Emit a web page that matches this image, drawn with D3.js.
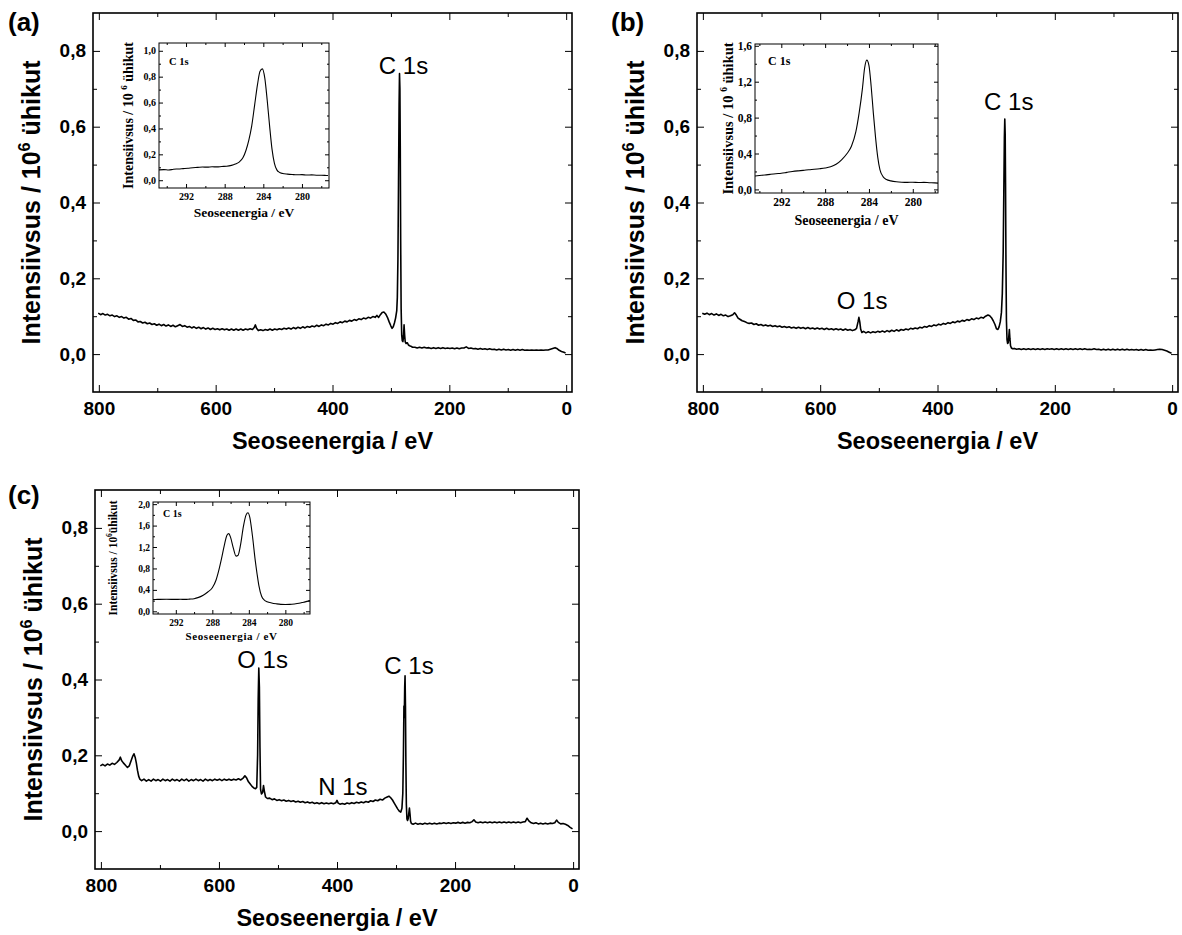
<!DOCTYPE html>
<html><head><meta charset="utf-8">
<script src="https://cdn.jsdelivr.net/npm/d3@7"></script>
<style>body{margin:0;background:#fff} svg{display:block}</style>
</head><body>
<svg id="chart" width="1182" height="935"></svg>
<script>
// ---------- DATA ----------
// survey spectra: [binding energy eV, intensity 10^6 units]
const surveyA = [[801,0.108],[797,0.104],[793,0.107],[789,0.103],[785,0.105],[781,0.101],[777,0.103],[773,0.099],[769,0.101],[765,0.097],[761,0.099],[757,0.095],[753,0.097],[749,0.092],[745,0.094],[741,0.089],[737,0.090],[733,0.085],[729,0.086],[725,0.082],[721,0.084],[717,0.080],[713,0.082],[709,0.078],[705,0.080],[701,0.076],[697,0.079],[693,0.075],[689,0.078],[685,0.074],[681,0.077],[677,0.073],[673,0.076],[669,0.072],[665,0.075],[661,0.078],[657,0.073],[653,0.075],[649,0.071],[645,0.073],[641,0.069],[637,0.072],[633,0.068],[629,0.071],[625,0.067],[621,0.070],[617,0.066],[613,0.069],[609,0.065],[605,0.068],[601,0.065],[597,0.067],[593,0.064],[589,0.067],[585,0.064],[581,0.066],[577,0.063],[573,0.066],[569,0.063],[565,0.066],[561,0.063],[557,0.066],[553,0.063],[549,0.066],[545,0.064],[541,0.067],[537,0.065],[534,0.070],[532,0.077],[530,0.068],[527,0.062],[523,0.064],[519,0.062],[515,0.065],[511,0.063],[507,0.066],[503,0.063],[499,0.066],[495,0.064],[491,0.067],[487,0.065],[483,0.068],[479,0.066],[475,0.069],[471,0.066],[467,0.070],[463,0.067],[459,0.071],[455,0.068],[451,0.072],[447,0.069],[443,0.073],[439,0.071],[435,0.074],[431,0.072],[427,0.076],[423,0.073],[419,0.077],[415,0.075],[411,0.079],[407,0.077],[403,0.081],[399,0.079],[395,0.083],[391,0.081],[387,0.085],[383,0.083],[379,0.087],[375,0.085],[371,0.089],[367,0.087],[363,0.091],[359,0.089],[355,0.093],[351,0.091],[347,0.095],[343,0.093],[339,0.097],[335,0.095],[331,0.099],[327,0.097],[324,0.102],[321,0.097],[318,0.104],[315,0.110],[312,0.111],[309,0.106],[306,0.097],[303,0.085],[300,0.074],[298,0.068],[296,0.072],[294,0.082],[292,0.095],[290,0.115],[289,0.15],[288,0.25],[287,0.45],[286,0.66],[285.3,0.74],[284.6,0.70],[284,0.55],[283.3,0.30],[282.5,0.12],[281.5,0.05],[280.5,0.035],[279.5,0.033],[278.5,0.045],[277.5,0.077],[276.5,0.05],[275.5,0.032],[274,0.028],[272,0.030],[270,0.024],[268,0.022],[266,0.021],[263,0.018],[259,0.018],[255,0.016],[251,0.018],[247,0.016],[243,0.018],[239,0.016],[235,0.017],[231,0.015],[227,0.017],[223,0.015],[219,0.017],[215,0.015],[211,0.017],[207,0.015],[203,0.016],[199,0.015],[195,0.016],[191,0.014],[187,0.016],[183,0.014],[179,0.016],[175,0.016],[171,0.019],[167,0.015],[163,0.016],[159,0.014],[155,0.015],[151,0.013],[147,0.015],[143,0.013],[139,0.014],[135,0.012],[131,0.014],[127,0.012],[123,0.013],[119,0.011],[115,0.013],[111,0.011],[107,0.013],[103,0.011],[99,0.012],[95,0.010],[91,0.012],[87,0.010],[83,0.012],[79,0.010],[75,0.012],[71,0.010],[67,0.011],[63,0.010],[59,0.011],[55,0.010],[51,0.011],[47,0.010],[43,0.011],[39,0.010],[35,0.011],[31,0.011],[27,0.013],[23,0.015],[19,0.017],[16,0.015],[12,0.010],[8,0.007],[4,0.005],[1,0.003]];

const surveyB = [[801,0.108],[797,0.105],[793,0.108],[789,0.104],[785,0.107],[781,0.103],[777,0.106],[773,0.102],[769,0.105],[765,0.101],[761,0.103],[757,0.099],[753,0.101],[749,0.104],[746,0.109],[743,0.103],[740,0.095],[737,0.092],[733,0.088],[729,0.086],[725,0.083],[721,0.081],[717,0.082],[713,0.078],[709,0.080],[705,0.076],[701,0.078],[697,0.075],[693,0.077],[689,0.074],[685,0.076],[681,0.073],[677,0.075],[673,0.072],[669,0.074],[665,0.071],[661,0.073],[657,0.070],[653,0.072],[649,0.069],[645,0.071],[641,0.068],[637,0.071],[633,0.068],[629,0.070],[625,0.067],[621,0.070],[617,0.067],[613,0.069],[609,0.066],[605,0.069],[601,0.066],[597,0.068],[593,0.065],[589,0.068],[585,0.065],[581,0.067],[577,0.064],[573,0.067],[569,0.064],[565,0.066],[561,0.063],[557,0.066],[553,0.063],[549,0.065],[545,0.062],[541,0.064],[538,0.068],[535.5,0.085],[534,0.097],[532.5,0.085],[531,0.066],[529,0.057],[526,0.060],[522,0.056],[518,0.059],[514,0.056],[510,0.059],[506,0.057],[502,0.060],[498,0.058],[494,0.061],[490,0.058],[486,0.062],[482,0.059],[478,0.063],[474,0.060],[470,0.064],[466,0.061],[462,0.065],[458,0.063],[454,0.066],[450,0.064],[446,0.068],[442,0.066],[438,0.069],[434,0.067],[430,0.071],[426,0.069],[422,0.073],[418,0.071],[414,0.075],[410,0.073],[406,0.077],[402,0.075],[398,0.079],[394,0.077],[390,0.081],[386,0.079],[382,0.083],[378,0.081],[374,0.085],[370,0.083],[366,0.087],[362,0.085],[358,0.089],[354,0.087],[350,0.091],[346,0.089],[342,0.093],[338,0.091],[334,0.095],[330,0.093],[326,0.097],[322,0.095],[318,0.100],[314,0.103],[311,0.101],[308,0.096],[305,0.088],[302,0.078],[299.5,0.067],[297,0.065],[295,0.072],[293,0.085],[291,0.11],[289.5,0.16],[288,0.27],[287,0.42],[286,0.57],[285.3,0.62],[284.6,0.58],[284,0.45],[283.3,0.24],[282.5,0.09],[281.5,0.038],[280.5,0.028],[279.5,0.03],[278.5,0.045],[277.5,0.065],[276.5,0.04],[275.5,0.022],[274,0.016],[272,0.014],[269,0.015],[265,0.013],[261,0.014],[257,0.012],[253,0.014],[249,0.012],[245,0.014],[241,0.012],[237,0.014],[233,0.012],[229,0.014],[225,0.012],[221,0.014],[217,0.012],[213,0.014],[209,0.013],[205,0.014],[201,0.012],[197,0.014],[193,0.012],[189,0.014],[185,0.012],[181,0.014],[177,0.012],[173,0.014],[169,0.012],[165,0.014],[161,0.012],[157,0.014],[153,0.012],[149,0.014],[145,0.012],[141,0.013],[137,0.012],[133,0.014],[129,0.012],[125,0.013],[121,0.011],[117,0.013],[113,0.011],[109,0.013],[105,0.011],[101,0.013],[97,0.011],[93,0.013],[89,0.011],[85,0.013],[81,0.011],[77,0.013],[73,0.011],[69,0.012],[65,0.011],[61,0.012],[57,0.010],[53,0.012],[49,0.010],[45,0.012],[41,0.010],[37,0.011],[33,0.010],[29,0.011],[25,0.012],[21,0.013],[17,0.012],[13,0.010],[9,0.008],[5,0.005],[1,0.002]];

const surveyC = [[801,0.172],[797,0.176],[793,0.172],[789,0.177],[785,0.174],[781,0.179],[777,0.176],[773,0.181],[769,0.188],[767,0.195],[765,0.186],[762,0.180],[758,0.173],[755,0.168],[752,0.172],[749,0.185],[746,0.198],[744,0.204],[742,0.195],[740,0.180],[738,0.160],[736,0.145],[734,0.137],[731,0.133],[727,0.137],[723,0.132],[719,0.136],[715,0.132],[711,0.137],[707,0.133],[703,0.136],[699,0.132],[695,0.137],[691,0.133],[687,0.136],[683,0.132],[679,0.137],[675,0.133],[671,0.136],[667,0.132],[663,0.137],[659,0.133],[655,0.137],[651,0.132],[647,0.136],[643,0.133],[639,0.137],[635,0.133],[631,0.136],[627,0.132],[623,0.137],[619,0.133],[615,0.136],[611,0.133],[607,0.137],[603,0.134],[599,0.137],[595,0.133],[591,0.137],[587,0.134],[583,0.137],[579,0.134],[575,0.137],[571,0.135],[567,0.138],[563,0.135],[559,0.140],[556,0.146],[553,0.140],[550,0.130],[547,0.124],[544,0.118],[541,0.114],[538,0.112],[536,0.115],[534.5,0.20],[533.5,0.35],[532.5,0.43],[531.5,0.38],[530.5,0.22],[529.5,0.11],[528,0.098],[526,0.102],[524.5,0.12],[523,0.105],[521,0.090],[518,0.086],[514,0.087],[510,0.083],[506,0.085],[502,0.081],[498,0.083],[494,0.080],[490,0.082],[486,0.079],[482,0.081],[478,0.078],[474,0.080],[470,0.077],[466,0.079],[462,0.076],[458,0.078],[454,0.075],[450,0.077],[446,0.074],[442,0.076],[438,0.073],[434,0.075],[430,0.072],[426,0.075],[422,0.072],[418,0.074],[414,0.072],[410,0.074],[406,0.072],[402,0.075],[400,0.081],[398,0.074],[395,0.071],[391,0.073],[387,0.071],[383,0.074],[379,0.072],[375,0.075],[371,0.073],[367,0.076],[363,0.074],[359,0.077],[355,0.075],[351,0.078],[347,0.076],[343,0.080],[339,0.078],[335,0.082],[331,0.080],[327,0.084],[323,0.082],[319,0.087],[315,0.090],[312,0.092],[309,0.088],[306,0.082],[303,0.074],[300,0.066],[297,0.058],[294,0.052],[292,0.050],[290,0.060],[288.5,0.10],[287.5,0.20],[286.6,0.33],[286,0.30],[285.3,0.38],[284.7,0.41],[284,0.33],[283.3,0.18],[282.5,0.07],[281.5,0.032],[280.5,0.028],[279.5,0.032],[278.5,0.045],[277.3,0.061],[276.3,0.045],[275.3,0.026],[274,0.020],[271,0.018],[267,0.021],[263,0.018],[259,0.020],[255,0.018],[251,0.021],[247,0.019],[243,0.021],[239,0.019],[235,0.021],[231,0.019],[227,0.021],[223,0.020],[219,0.022],[215,0.020],[211,0.022],[207,0.020],[203,0.022],[199,0.021],[195,0.023],[191,0.021],[187,0.023],[183,0.021],[179,0.023],[175,0.022],[171,0.025],[168,0.030],[165,0.024],[161,0.022],[157,0.024],[153,0.022],[149,0.024],[145,0.022],[141,0.024],[137,0.022],[133,0.024],[129,0.022],[125,0.024],[121,0.022],[117,0.024],[113,0.022],[109,0.024],[105,0.022],[101,0.024],[97,0.022],[93,0.024],[89,0.022],[85,0.024],[81,0.025],[78,0.034],[75,0.027],[71,0.022],[67,0.020],[63,0.022],[59,0.019],[55,0.021],[51,0.019],[47,0.021],[43,0.019],[39,0.021],[35,0.020],[31,0.022],[28,0.029],[25,0.023],[21,0.019],[17,0.020],[13,0.018],[9,0.015],[5,0.010],[1,0.006]];

// C 1s high-resolution insets
const insetA = [[294.8,0.08],[294.3,0.082],[293.8,0.079],[293.3,0.085],[292.8,0.087],[292.3,0.09],[291.8,0.093],[291.3,0.097],[290.8,0.099],[290.3,0.102],[289.8,0.101],[289.3,0.104],[288.8,0.103],[288.3,0.106],[287.8,0.108],[287.3,0.115],[286.9,0.125],[286.5,0.14],[286.1,0.175],[285.8,0.23],[285.5,0.31],[285.2,0.42],[284.9,0.58],[284.6,0.74],[284.35,0.84],[284.1,0.86],[283.85,0.79],[283.6,0.62],[283.35,0.42],[283.1,0.24],[282.85,0.13],[282.6,0.08],[282.3,0.06],[282,0.052],[281.5,0.047],[281,0.044],[280.5,0.042],[280,0.043],[279.5,0.04],[279,0.041],[278.5,0.039],[278,0.039],[277.5,0.037],[277.3,0.036]];
const insetB = [[294.4,0.15],[294,0.155],[293.5,0.16],[293,0.168],[292.5,0.175],[292,0.18],[291.5,0.19],[291,0.2],[290.5,0.207],[290,0.212],[289.5,0.219],[289,0.224],[288.5,0.23],[288,0.238],[287.5,0.252],[287,0.28],[286.5,0.33],[286,0.40],[285.6,0.48],[285.2,0.64],[284.9,0.85],[284.6,1.12],[284.4,1.35],[284.2,1.44],[284,1.38],[283.8,1.15],[283.6,0.85],[283.4,0.58],[283.2,0.36],[283,0.22],[282.7,0.14],[282.4,0.11],[282,0.095],[281.5,0.085],[281,0.08],[280.5,0.078],[280,0.08],[279.5,0.077],[279,0.078],[278.5,0.075],[278,0.073],[277.7,0.07]];
const insetC = [[294.5,0.22],[294,0.222],[293,0.225],[292,0.222],[291.5,0.225],[291,0.222],[290.5,0.228],[290,0.235],[289.5,0.26],[289,0.30],[288.5,0.36],[288,0.44],[287.6,0.58],[287.3,0.76],[287,0.98],[286.7,1.22],[286.4,1.42],[286.2,1.45],[286,1.38],[285.7,1.18],[285.4,1.03],[285.2,1.04],[284.9,1.25],[284.6,1.58],[284.3,1.80],[284.1,1.84],[283.9,1.76],[283.6,1.40],[283.3,0.95],[283.1,0.70],[282.9,0.48],[282.6,0.28],[282.3,0.21],[282,0.18],[281.5,0.155],[281,0.14],[280.5,0.13],[280,0.128],[279.5,0.13],[279,0.138],[278.5,0.15],[278,0.17],[277.5,0.19],[277.3,0.2]];

// tick values
const surveyXTicks = [800, 600, 400, 200, 0];
const surveyXMinor = [700, 500, 300, 100];
const surveyYTicks = [0, 0.2, 0.4, 0.6, 0.8];
const surveyYMinor = [0.1, 0.3, 0.5, 0.7];
const insetXTicks = [292, 288, 284, 280];
const insetXMinor = [294, 290, 286, 282, 278];
const insetYTicksA = [0, 0.2, 0.4, 0.6, 0.8, 1.0];
const insetYMinorA = [0.1, 0.3, 0.5, 0.7, 0.9];
const insetYTicksB = [0, 0.4, 0.8, 1.2, 1.6];
const insetYMinorB = [0.2, 0.6, 1.0, 1.4];
const insetYTicksC = [0, 0.4, 0.8, 1.2, 1.6, 2.0];
const insetYMinorC = [0.2, 0.6, 1.0, 1.4, 1.8];

// peak labels: text, energy, intensity (label baseline in data units)
const peakLabelsA = [{text: "C 1s", eV: 278.5, I: 0.74}];
const peakLabelsB = [{text: "C 1s", eV: 278.5, I: 0.645}, {text: "O 1s", eV: 528.5, I: 0.12}];
const peakLabelsC = [{text: "O 1s", eV: 526, I: 0.43}, {text: "C 1s", eV: 278, I: 0.415}, {text: "N 1s", eV: 390, I: 0.095}];

// ---------- DRAWING ----------
const svg = d3.select("#chart");
const SANS = "'Liberation Sans', Arial, Helvetica, sans-serif";
const SERIF = "'Liberation Serif', 'Times New Roman', serif";
const comma = d => d3.format(".1f")(d).replace(".", ",");

function styleAxis(sel, font, size) {
  sel.select(".domain").remove();
  sel.attr("font-family", font).attr("font-size", size).attr("font-weight", "bold");
  sel.selectAll("line").attr("stroke", "#000");
  sel.selectAll("text").attr("fill", "#000");
}

function frameAxes(g, x, y, b, o) {
  const ax = (gen, tr) => g.append("g").attr("transform", tr).call(gen).call(s => styleAxis(s, o.font, o.fs));
  const none = () => "";
  ax(d3.axisBottom(x).tickValues(o.xT).tickSize(-o.maj).tickSizeOuter(0).tickPadding(o.xPad).tickFormat(d3.format("d")), `translate(0,${b.bottom})`);
  ax(d3.axisBottom(x).tickValues(o.xM).tickSize(-o.min).tickSizeOuter(0).tickFormat(none), `translate(0,${b.bottom})`);
  ax(d3.axisTop(x).tickValues(o.xT).tickSize(-o.maj).tickSizeOuter(0).tickFormat(none), `translate(0,${b.top})`);
  ax(d3.axisTop(x).tickValues(o.xM).tickSize(-o.min).tickSizeOuter(0).tickFormat(none), `translate(0,${b.top})`);
  ax(d3.axisLeft(y).tickValues(o.yT).tickSize(-o.maj).tickSizeOuter(0).tickPadding(o.yPad).tickFormat(comma), `translate(${b.left},0)`);
  ax(d3.axisLeft(y).tickValues(o.yM).tickSize(-o.min).tickSizeOuter(0).tickFormat(none), `translate(${b.left},0)`);
  ax(d3.axisRight(y).tickValues(o.yT).tickSize(-o.maj).tickSizeOuter(0).tickFormat(none), `translate(${b.right},0)`);
  ax(d3.axisRight(y).tickValues(o.yM).tickSize(-o.min).tickSizeOuter(0).tickFormat(none), `translate(${b.right},0)`);
  g.append("rect").attr("x", b.left).attr("y", b.top).attr("width", b.right - b.left).attr("height", b.bottom - b.top)
    .attr("fill", "none").attr("stroke", "#000").attr("stroke-width", o.frame);
}

function yTitle(g, xPos, yPos, size, font, pre, sup, post) {
  const t = g.append("text").attr("transform", `translate(${xPos},${yPos}) rotate(-90)`)
    .attr("text-anchor", "middle").attr("font-family", font).attr("font-size", size).attr("font-weight", "bold");
  t.append("tspan").text(pre);
  t.append("tspan").attr("font-size", size * 0.65).attr("dy", -size * 0.4).text(sup);
  t.append("tspan").attr("dy", size * 0.4).text(post);
}

function drawSurvey(b, data, labels, panelLetter, letterX, letterY) {
  const g = svg.append("g");
  const x = d3.scaleLinear().domain([810, -10]).range([b.left, b.right]);
  const y = d3.scaleLinear().domain([-0.1, 0.9]).range([b.bottom, b.top]);
  frameAxes(g, x, y, b, {xT: surveyXTicks, xM: surveyXMinor, yT: surveyYTicks, yM: surveyYMinor,
    maj: 7, min: 4, xPad: 10, yPad: 7, font: SANS, fs: 19, frame: 1.6});
  g.append("path").datum(data).attr("fill", "none").attr("stroke", "#000").attr("stroke-width", 1.6)
    .attr("stroke-linejoin", "round")
    .attr("d", d3.line().x(d => x(d[0])).y(d => y(d[1])));
  g.selectAll("text.peak").data(labels).join("text").attr("class", "peak")
    .attr("x", d => x(d.eV)).attr("y", d => y(d.I)).attr("text-anchor", "middle")
    .attr("font-family", SANS).attr("font-size", 24).text(d => d.text);
  g.append("text").attr("x", (b.left + b.right) / 2).attr("y", b.bottom + 57).attr("text-anchor", "middle")
    .attr("font-family", SANS).attr("font-size", 23.5).attr("font-weight", "bold").text("Seoseenergia / eV");
  yTitle(g, b.left - 53, (b.top + b.bottom) / 2, 25, SANS, "Intensiivsus / 10", "6", " ühikut");
  g.append("text").attr("x", letterX).attr("y", letterY).attr("font-family", SANS).attr("font-size", 26)
    .attr("font-weight", "bold").text(panelLetter);
}

function drawInset(b, data, dom, yT, yM, o) {
  const g = svg.append("g");
  const x = d3.scaleLinear().domain(dom.x).range([b.left, b.right]);
  const y = d3.scaleLinear().domain(dom.y).range([b.bottom, b.top]);
  frameAxes(g, x, y, b, {xT: insetXTicks, xM: insetXMinor, yT: yT, yM: yM,
    maj: 4, min: 2, xPad: 5, yPad: 3, font: SERIF, fs: o.fs, frame: 1});
  g.append("path").datum(data).attr("fill", "none").attr("stroke", "#000").attr("stroke-width", 1.1)
    .attr("stroke-linejoin", "round")
    .attr("d", d3.line().curve(d3.curveMonotoneX).x(d => x(d[0])).y(d => y(d[1])));
  g.append("text").attr("x", b.left + o.cx).attr("y", b.top + o.cy).attr("font-family", SERIF)
    .attr("font-size", o.fs + 0.5).attr("font-weight", "bold").text("C 1s");
  g.append("text").attr("x", (b.left + b.right) / 2).attr("y", b.bottom + o.xtY).attr("text-anchor", "middle")
    .attr("font-family", SERIF).attr("font-size", o.xfs).attr("font-weight", "bold")
    .attr("letter-spacing", o.ls).text("Seoseenergia / eV");
  yTitle(g, b.left - o.ytX, (b.top + b.bottom) / 2, o.yfs, SERIF, o.pre, "6", o.post);
}

// panels
drawSurvey({left: 93, right: 572, top: 13, bottom: 392}, surveyA, peakLabelsA, "(a)", 8, 31);
drawSurvey({left: 697, right: 1178, top: 13, bottom: 392}, surveyB, peakLabelsB, "(b)", 611, 31);
drawSurvey({left: 95, right: 579, top: 490, bottom: 869}, surveyC, peakLabelsC, "(c)", 8, 504);

drawInset({left: 159, right: 329, top: 43, bottom: 188}, insetA, {x: [294.8, 277.2], y: [-0.06, 1.06]},
  insetYTicksA, insetYMinorA, {fs: 10, xfs: 13.5, yfs: 14, cx: 10, cy: 22, xtY: 29, ls: 0, ytX: 26, pre: "Intensiivsus / 10 ", post: " ühikut"});
drawInset({left: 755, right: 938, top: 44, bottom: 193}, insetB, {x: [294.4, 277.7], y: [-0.04, 1.62]},
  insetYTicksB, insetYMinorB, {fs: 11.5, xfs: 14, yfs: 14.5, cx: 13, cy: 21, xtY: 32, ls: 0, ytX: 22, pre: "Intensiivsus / 10 ", post: " ühikut"});
drawInset({left: 153, right: 310, top: 502, bottom: 614}, insetC, {x: [294.5, 277.3], y: [-0.05, 2.04]},
  insetYTicksC, insetYMinorC, {fs: 9.5, xfs: 11, yfs: 11.5, cx: 10, cy: 15, xtY: 26, ls: 0.6, ytX: 36, pre: "Intensiivsus / 10", post: "ühikut"});
</script>
</body></html>
